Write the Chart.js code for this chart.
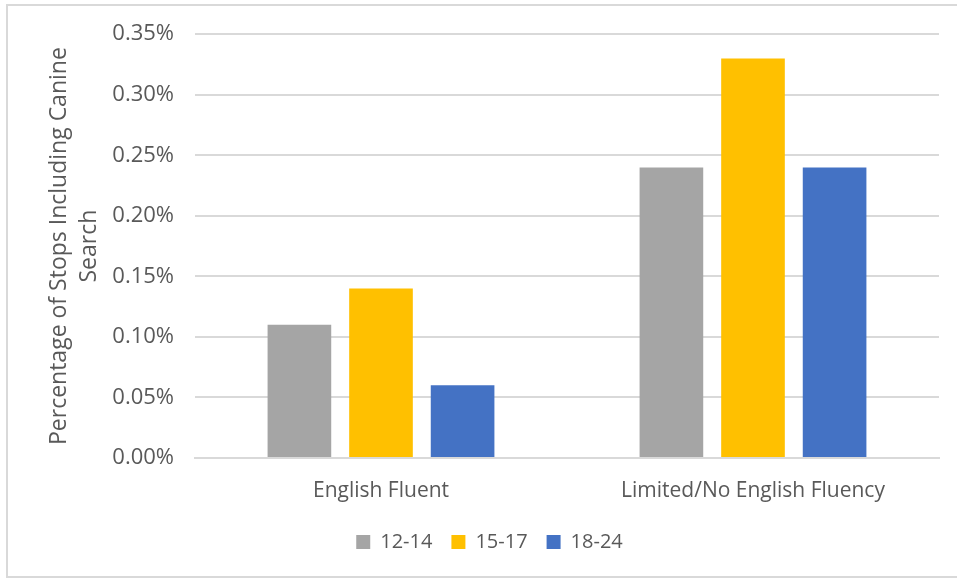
<!DOCTYPE html>
<html>
<head>
<meta charset="utf-8">
<script src="https://cdn.jsdelivr.net/npm/chart.js@4/dist/chart.umd.min.js"></script>
<style>
  html, body { margin: 0; padding: 0; background: #ffffff; overflow: hidden; }
  #wrap { position: relative; width: 957px; height: 580px; }
  #frame { position: absolute; left: 6px; top: 4px; width: 1000px; height: 574px;
           border: 2px solid #d9d9d9; box-sizing: border-box; pointer-events: none; }
  canvas { position: absolute; left: 0; top: 0; }
</style>
</head>
<body>
<div id="wrap">
  <canvas id="c" width="957" height="580"></canvas>
  <div id="frame"></div>
</div>
<script>
const categories = ["English Fluent", "Limited/No English Fluency"];
const seriesNames = ["12-14", "15-17", "18-24"];
const values1214 = [0.11, 0.24];
const values1517 = [0.14, 0.33];
const values1824 = [0.06, 0.24];
const yTicks = [0, 0.05, 0.10, 0.15, 0.20, 0.25, 0.30, 0.35];
const yTitle = ["Percentage of Stops Including Canine", "Search"];

const colors = ["#A5A5A5", "#FFC000", "#4472C4"];
const txt = "#595959";
const FONT = "'Open Sans', 'DejaVu Sans', sans-serif";

const seriesValues = [values1214, values1517, values1824];

new Chart(document.getElementById("c"), {
  type: "bar",
  data: {
    labels: categories,
    datasets: seriesNames.map((n, i) => ({
      label: n,
      data: seriesValues[i],
      backgroundColor: colors[i],
      borderWidth: 0,
      categoryPercentage: 0.658,
      barPercentage: 0.78
    }))
  },
  options: {
    responsive: false,
    animation: false,
    devicePixelRatio: 1,
    layout: { padding: { left: 40, right: 18, top: 33, bottom: 18 } },
    plugins: {
      tooltip: { enabled: false },
      legend: {
        position: "bottom",
        labels: {
          boxWidth: 14, boxHeight: 14, padding: 19,
          color: txt,
          font: { family: FONT, size: 20 }
        }
      }
    },
    scales: {
      x: {
        afterFit: (s) => { s.height = 55; },
        grid: { display: false, drawTicks: false },
        border: { display: true, color: "#d9d9d9", width: 2 },
        ticks: { color: txt, padding: 20, font: { family: FONT, size: 21 } }
      },
      y: {
        min: 0, max: 0.35,
        afterFit: (s) => { s.width = 155; },
        afterBuildTicks: (s) => { s.ticks = yTicks.map(v => ({ value: v })); },
        grid: { color: "#d9d9d9", lineWidth: 2, drawTicks: false },
        border: { display: false },
        ticks: {
          color: txt, padding: 21,
          font: { family: FONT, size: 22 },
          callback: (v) => v.toFixed(2) + "%"
        },
        title: {
          display: true, text: yTitle, color: txt,
          font: { family: FONT, size: 23, lineHeight: 1.3 },
          padding: { top: 5, bottom: 0 }
        }
      }
    }
  }
});
</script>
</body>
</html>
